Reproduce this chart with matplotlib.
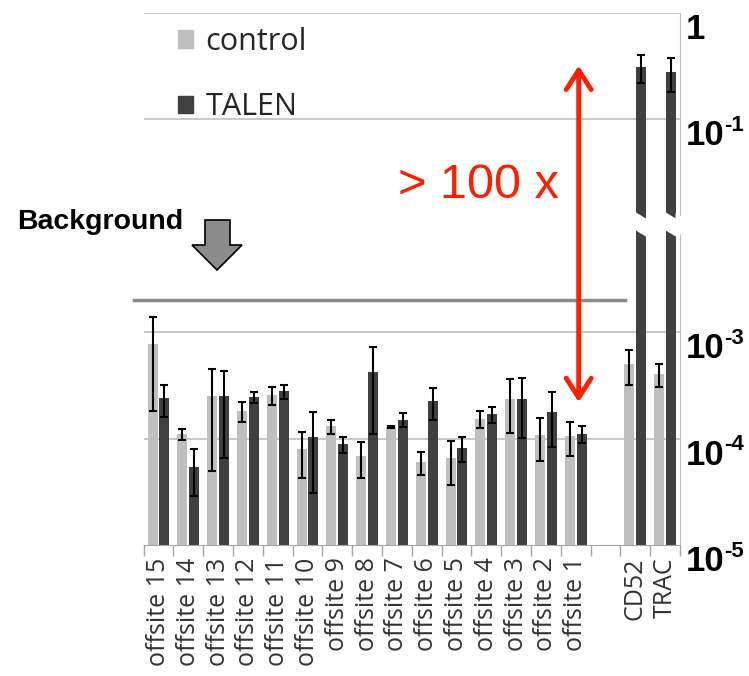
import matplotlib
matplotlib.use("Agg")
from matplotlib import pyplot as plt
from matplotlib.patches import Polygon, Rectangle
import matplotlib.transforms as mtransforms
import numpy as np

# Data
categories = ["offsite 15", "offsite 14", "offsite 13", "offsite 12", "offsite 11",
              "offsite 10", "offsite 9", "offsite 8", "offsite 7", "offsite 6",
              "offsite 5", "offsite 4", "offsite 3", "offsite 2", "offsite 1",
              "CD52", "TRAC"]
control = [7.8e-4, 1.1e-4, 2.5e-4, 1.83e-4, 2.55e-4, 7.9e-5, 1.31e-4, 6.8e-5, 1.29e-4,
           6.0e-5, 6.6e-5, 1.54e-4, 2.37e-4, 1.09e-4, 1.06e-4, 5.0e-4, 4.07e-4]
control_err = [6.0e-4, 1.2e-5, 2.0e-4, 4.0e-5, 5.0e-5, 3.6e-5, 2.0e-5, 2.5e-5, 3.0e-6,
               1.5e-5, 2.9e-5, 2.7e-5, 1.25e-4, 4.7e-5, 3.7e-5, 1.8e-4, 1.0e-4]
talen = [2.4e-4, 5.4e-5, 2.5e-4, 2.44e-4, 2.78e-4, 1.04e-4, 8.85e-5, 4.2e-4, 1.51e-4,
         2.26e-4, 8.2e-5, 1.69e-4, 2.37e-4, 1.78e-4, 1.11e-4, 0.31, 0.28]
talen_err = [8.0e-5, 2.5e-5, 1.85e-4, 3.0e-5, 4.0e-5, 7.3e-5, 1.5e-5, 3.1e-4, 2.2e-5,
             7.5e-5, 2.2e-5, 3.0e-5, 1.36e-4, 9.5e-5, 2.0e-5, 0.09, 0.10]
ytick_values = [1, 1e-1, 1e-3, 1e-4, 1e-5]
ytick_base = ["1", "10", "10", "10", "10"]
ytick_exp = ["", "-1", "-3", "-4", "-5"]
grid_values = [1, 1e-1, 1e-3, 1e-4]
background = 2e-3
fold_low = 2.2e-4
fold_high = 0.32

c_light = '#BFBFBF'
c_dark = '#404040'
red = '#FF1E00'

fig = plt.figure(figsize=(7.49, 6.76), dpi=100)
ax = fig.add_axes([0.1917, 0.1938, 0.7162, 0.787])

# 15 offsites, a gap, then CD52 and TRAC
x = np.r_[np.arange(15), 16, 17]
w = 0.335
off = 0.2

for g in grid_values:
    ax.axhline(g, color=c_light, lw=1.2, zorder=0)

ax.bar(x - off, control, width=w, color=c_light, zorder=2)
ax.bar(x + off, talen, width=w, color=c_dark, zorder=2)
ax.errorbar(x - off, control, yerr=control_err, fmt='none', ecolor='black',
            elinewidth=1.5, capsize=3, capthick=1.5, zorder=3)
ax.errorbar(x + off, talen, yerr=talen_err, fmt='none', ecolor='black',
            elinewidth=1.5, capsize=3, capthick=1.5, zorder=3)

ax.set_yscale('log')
ax.set_ylim(1e-5, 1)
ax.set_xlim(-0.5, 17.5)

# Spines and ticks
for s in ['left', 'top']:
    ax.spines[s].set_visible(False)
ax.spines['right'].set_color(c_light)
ax.spines['bottom'].set_color('#A6A6A6')
ax.set_yticks([])
ax.set_yticks([], minor=True)
ax.set_xticks(x)
ax.set_xticklabels(categories, rotation=90, fontsize=18, family='Open Sans',
                   color='#333333')
ax.set_xticks(np.arange(-0.5, 18, 1), minor=True)
ax.tick_params(axis='x', which='major', length=0, pad=9)
ax.tick_params(axis='x', which='minor', length=8, color='#A6A6A6', width=1)

# Y labels on the right: "10" plus a small raised exponent
trans = mtransforms.blended_transform_factory(ax.transAxes, ax.transData)
for v, base, exp in zip(ytick_values, ytick_base, ytick_exp):
    t = ax.text(1.010, v, base, transform=trans, ha='left', va='top', fontsize=25,
                fontweight='bold', family='Liberation Sans', color='black')
    if exp:
        ax.annotate(exp, xy=(1, 1), xycoords=t, xytext=(0, 3),
                    textcoords='offset points', ha='left', va='top', fontsize=16,
                    fontweight='bold', family='Liberation Sans', color='black',
                    annotation_clip=False)

# Axis break over the tall bars
btrans = mtransforms.blended_transform_factory(ax.transData, ax.transAxes)
def break_patch(xc, half):
    y0, h, s = 0.602, 0.017, 0.034
    pts = [(xc - half, y0 + h + s * half), (xc + half, y0 + h - s * half),
           (xc + half, y0 - h - s * half), (xc - half, y0 - h + s * half)]
    ax.add_patch(Polygon(pts, closed=True, facecolor='white', edgecolor='none',
                         transform=btrans, zorder=4, clip_on=False))

break_patch(16 + off, 0.22)
break_patch(17 + off, 0.22)
break_patch(17.5, 0.15)

# Background line
ax.plot([-0.82, 15.65], [background, background], color='#8C8C8C', lw=2.5,
        clip_on=False, zorder=1)

# Fold arrow
ax.annotate('', xy=(14.1, fold_high), xytext=(14.1, fold_low),
            arrowprops=dict(arrowstyle='<->,head_length=0.7,head_width=0.45',
                            color=red, lw=3.5, mutation_scale=20,
                            shrinkA=0, shrinkB=0), zorder=5)
fig.text(398 / 749, 1 - 185 / 676, '> 100 x', color=red, fontsize=35,
         family='Liberation Sans', ha='left', va='center')

# Background label and gray block arrow
fig.text(17 / 749, 1 - 222 / 676, 'Background', fontsize=20.5, fontweight='bold',
         family='Liberation Sans', ha='left', va='center')
arrow_px = [(205, 220), (230, 220), (230, 245), (242, 245), (217, 270),
            (192, 245), (205, 245)]
arrow_pts = [(px / 749, 1 - py / 676) for px, py in arrow_px]
fig.patches.append(Polygon(arrow_pts, closed=True, facecolor='#8C8C8C',
                           edgecolor='black', lw=1.2, transform=fig.transFigure))

# Legend
handles = [Rectangle((0, 0), 1, 1, color=c_light), Rectangle((0, 0), 1, 1, color=c_dark)]
ax.legend(handles, ['control', 'TALEN'], loc='upper left',
          bbox_to_anchor=(178 / 749, 1 - 27 / 676), bbox_transform=fig.transFigure,
          frameon=False, prop={'family': 'Open Sans', 'size': 22},
          handlelength=0.5, handleheight=0.5, handletextpad=0.4,
          labelspacing=1.15, borderpad=0, borderaxespad=0, labelcolor='#262626')

plt.savefig('out.png', dpi=100)
